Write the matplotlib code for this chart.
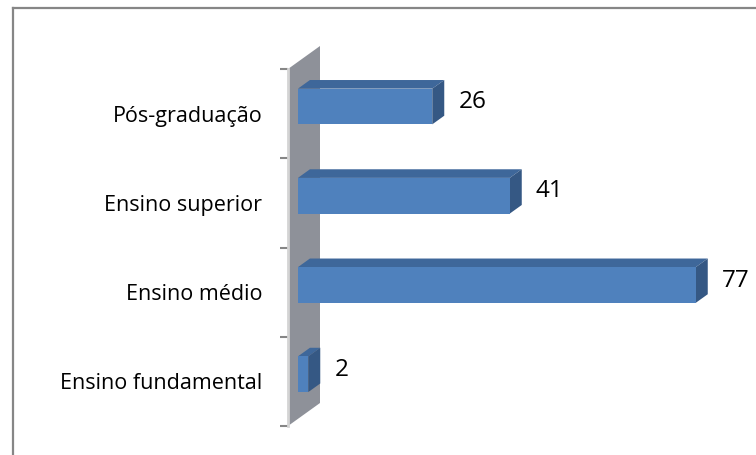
import matplotlib
matplotlib.use("Agg")
import matplotlib.pyplot as plt
from matplotlib.patches import Polygon
from matplotlib.lines import Line2D

categorias = ["Ensino fundamental", "Ensino médio", "Ensino superior", "Pós-graduação"]
valores = [2, 77, 41, 26]

cor_frente = "#4F81BD"
cor_topo = "#3E679A"
cor_lado = "#355884"
cor_parede = "#8E9199"

plt.rcParams['font.family'] = ['Open Sans', 'DejaVu Sans']

fig = plt.figure(figsize=(7.56, 4.55), dpi=100)
ax = fig.add_axes([288 / 756, 29 / 455, 465 / 756, 357 / 455])
ax.set_xlim(0, 90)
ax.set_ylim(-0.5, len(categorias) - 0.5)

# pixels por unidade de dados, para converter a profundidade 3D
p0 = ax.transData.transform((0, 0))
p1 = ax.transData.transform((1, 1))
sx, sy = p1[0] - p0[0], p1[1] - p0[1]
dxw, dyw = 32 / sx, 23 / sy          # profundidade da parede
fx, fy = 0.31 * dxw, 0.31 * dyw      # face da frente das barras
bx, by = 0.375 * dxw, 0.375 * dyw    # profundidade das barras

y0, y1 = -0.5, len(categorias) - 0.5
ax.add_patch(Polygon([(0, y0), (0, y1), (dxw, y1 + dyw), (dxw, y0 + dyw)],
                     closed=True, facecolor=cor_parede, edgecolor="none",
                     zorder=1, clip_on=False))

altura = 0.4
for i, v in enumerate(valores):
    yc = i + fy
    topo, base = yc + altura / 2, yc - altura / 2
    ax.add_patch(Polygon([(fx, topo), (fx + v, topo), (fx + v + bx, topo + by), (fx + bx, topo + by)],
                         closed=True, facecolor=cor_topo, edgecolor="none", zorder=2, clip_on=False))
    ax.add_patch(Polygon([(fx + v, base), (fx + v, topo), (fx + v + bx, topo + by), (fx + v + bx, base + by)],
                         closed=True, facecolor=cor_lado, edgecolor="none", zorder=2, clip_on=False))
    ax.barh(yc, v, left=fx, height=altura, color=cor_frente, zorder=3)
    ax.annotate(str(v), xy=(fx + v + bx, yc + by / 2), xytext=(14, 0),
                textcoords="offset pixels", va="center", ha="left",
                fontsize=17.5, color="black", annotation_clip=False)

ax.set_yticks(range(len(categorias)), categorias)
ax.set_yticks([y0 + k for k in range(len(categorias) + 1)], minor=True)
ax.tick_params(axis="y", which="major", length=0, pad=18.5, labelsize=15.5)
ax.tick_params(axis="y", which="minor", length=5.8, width=1.5, color="#868686")
ax.set_xticks([])
for lado in ["top", "right", "bottom"]:
    ax.spines[lado].set_visible(False)
ax.spines["left"].set_color("#D4D4D4")
ax.spines["left"].set_linewidth(2)
ax.spines["left"].set_zorder(4)
ax.patch.set_visible(False)

# moldura do gráfico
fig.add_artist(Line2D([13 / 756, 13 / 756], [0, 1 - 8 / 455], transform=fig.transFigure,
                      color="#868686", lw=1.6))
fig.add_artist(Line2D([13 / 756, 1], [1 - 8 / 455, 1 - 8 / 455], transform=fig.transFigure,
                      color="#868686", lw=1.6))

fig.savefig("out.png", dpi=100)
